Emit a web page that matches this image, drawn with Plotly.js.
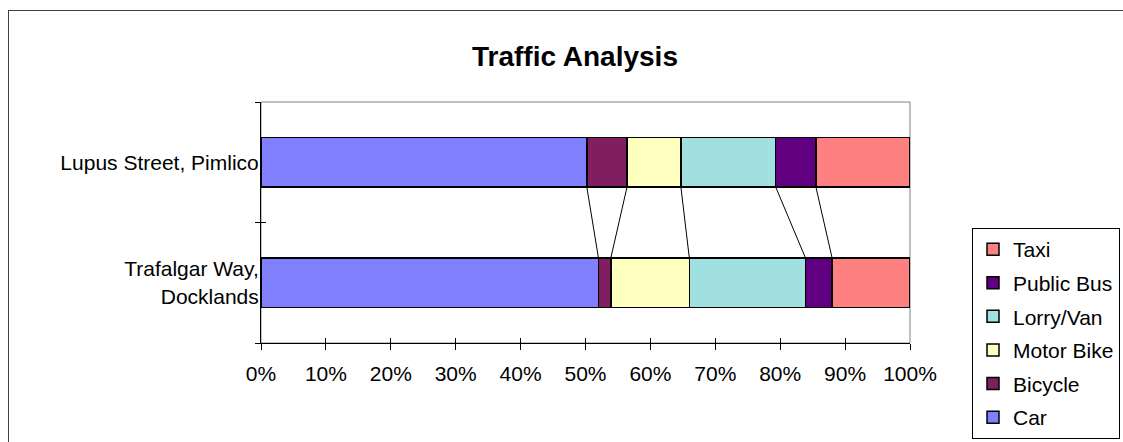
<!DOCTYPE html>
<html>
<head>
<meta charset="utf-8">
<script src="https://cdn.plot.ly/plotly-3.0.1.min.js"></script>
<style>
  html, body { margin: 0; padding: 0; background: #fff; overflow: hidden; }
  #frame { position: absolute; left: 8px; top: 10px; width: 1200px; height: 600px; border: 1px solid #404040; box-sizing: border-box; pointer-events: none; z-index: 5; }
  #chart { position: absolute; left: 0; top: 0; width: 1123px; height: 442px; }
</style>
</head>
<body>
<div id="chart"></div>
<div id="frame"></div>
<script>
// ---- data ----
const locations = ["Trafalgar Way,<br>Docklands", "Lupus Street, Pimlico"];
const seriesNames = ["Car", "Bicycle", "Motor Bike", "Lorry/Van", "Public Bus", "Taxi"];
const car       = [52.0, 50.2];
const bicycle   = [1.9, 6.2];
const motorBike = [12.1, 8.3];
const lorryVan  = [17.9, 14.6];
const publicBus = [4.1, 6.2];
const taxi      = [12.0, 14.5];
const xTickVals = [0, 10, 20, 30, 40, 50, 60, 70, 80, 90, 100];
const xTickText = ["0%", "10%", "20%", "30%", "40%", "50%", "60%", "70%", "80%", "90%", "100%"];

const seriesValues = [car, bicycle, motorBike, lorryVan, publicBus, taxi];
const colors = ["#8080FF", "#7F1F5F", "#FFFFC0", "#A0E0E0", "#600080", "#FF8080"];

const FONT = "Liberation Sans, Arial, sans-serif";
const barWidth = 0.41;

// normalise each location to percent
const totals = locations.map((_, i) => seriesValues.reduce((s, arr) => s + arr[i], 0));
const pct = seriesValues.map(arr => arr.map((v, i) => v / totals[i] * 100));

const traces = seriesNames.map((name, k) => ({
  type: "bar",
  orientation: "h",
  name: name,
  legendgroup: name,
  legendrank: seriesNames.length - k,
  y: locations,
  x: pct[k],
  width: barWidth,
  marker: { color: colors[k], line: { color: "#000", width: 1.5 } },
  hoverinfo: "name+x"
}));
// empty helper trace so the crossing-tick overlay axes are drawn
traces.push({ type: "scatter", x: [], y: [], xaxis: "x2", yaxis: "y2", showlegend: false, hoverinfo: "skip" });

// series lines between the two stacked bars (from cumulative sums)
const shapes = [];
shapes.push({ type: "rect", xref: "paper", yref: "paper", x0: 0, x1: 1, y0: 0, y1: 1,
  line: { color: "#808080", width: 1 }, layer: "below" });
for (let k = 0; k < seriesNames.length - 1; k++) {
  let cumTop = 0, cumBot = 0;
  for (let j = 0; j <= k; j++) { cumTop += pct[j][1]; cumBot += pct[j][0]; }
  shapes.push({ type: "line", xref: "x", yref: "y",
    x0: cumTop, y0: 1 - barWidth / 2, x1: cumBot, y1: 0 + barWidth / 2,
    line: { color: "#000", width: 1 }, layer: "below" });
}

const layout = {
  width: 1123, height: 442,
  margin: { l: 261, r: 213, t: 102, b: 99, autoexpand: false },
  paper_bgcolor: "#fff", plot_bgcolor: "#fff",
  font: { family: FONT, size: 21, color: "#000" },
  title: { text: "<b>Traffic Analysis</b>", font: { family: FONT, size: 28, color: "#000" },
    xref: "paper", x: (575 - 261) / 649, xanchor: "center", yref: "container", y: 1 - 56 / 442, yanchor: "middle" },
  barmode: "stack",
  showlegend: true,
  legend: { x: (972 - 261) / 649, xanchor: "left", y: (343 - 228) / 241, yanchor: "top",
    traceorder: "grouped", tracegroupgap: 3.3,
    bordercolor: "#000", borderwidth: 1, bgcolor: "#fff",
    font: { family: FONT, size: 21, color: "#000" } },
  xaxis: { range: [0, 100], tickvals: xTickVals, ticktext: xTickText,
    showgrid: false, zeroline: false, showline: true, linecolor: "#000", linewidth: 1,
    ticks: "outside", ticklen: 6, tickcolor: "#000", ticklabelstandoff: 6,
    fixedrange: true },
  xaxis2: { overlaying: "x", anchor: "y2", side: "bottom", range: [0, 100], tickvals: xTickVals,
    showticklabels: false, showgrid: false, zeroline: false, showline: false,
    ticks: "inside", ticklen: 5, tickcolor: "#000" },
  yaxis: { type: "category", categoryorder: "array", categoryarray: locations,
    range: [-0.5, 1.5], tickson: "boundaries", ticks: "outside", ticklen: 5, tickcolor: "#000",
    showgrid: false, zeroline: false, showline: true, linecolor: "#000", linewidth: 1,
    ticklabelstandoff: -3, fixedrange: true },
  yaxis2: { overlaying: "y", anchor: "x2", side: "left", type: "linear", range: [-0.5, 1.5],
    tickvals: [-0.5, 0.5, 1.5], showticklabels: false, showgrid: false, zeroline: false,
    showline: false, ticks: "inside", ticklen: 5, tickcolor: "#000" },
  shapes: shapes
};

Plotly.newPlot("chart", traces, layout, { displayModeBar: false, staticPlot: true });
</script>
</body>
</html>
